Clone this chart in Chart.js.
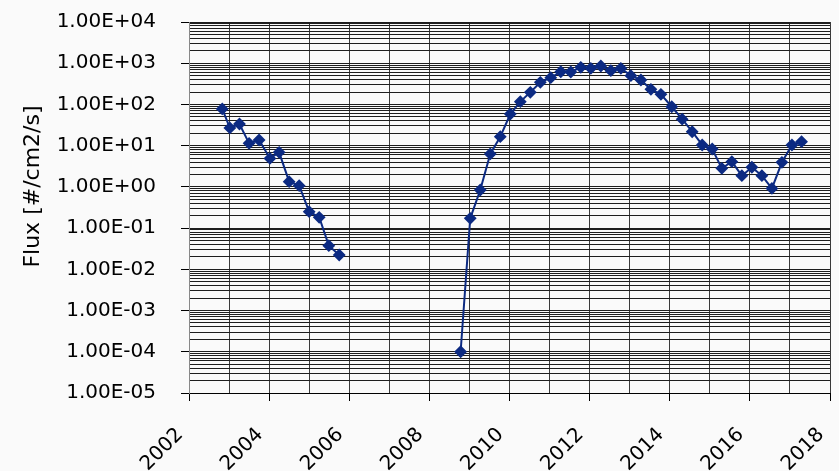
<!DOCTYPE html>
<html>
<head>
<meta charset="utf-8">
<script src="https://cdn.jsdelivr.net/npm/chart.js@4"></script>
<style>
  html, body { margin: 0; padding: 0; background: #fafafa; }
  canvas { display: block; }
</style>
</head>
<body>
<canvas id="fluxChart" width="839" height="471"></canvas>
<script>
// годы (дробные) и поток; null = разрыв в данных
const years = [
  2002.83, 2003.02, 2003.26, 2003.50, 2003.75, 2004.02, 2004.25, 2004.50, 2004.75,
  2005.00, 2005.25, 2005.49, 2005.75,
  2007.00,
  2008.78, 2009.02, 2009.27, 2009.52, 2009.77, 2010.02, 2010.27, 2010.52, 2010.77,
  2011.03, 2011.28, 2011.53, 2011.78, 2012.03, 2012.28, 2012.53, 2012.78,
  2013.03, 2013.28, 2013.53, 2013.78, 2014.05, 2014.31, 2014.56, 2014.81,
  2015.06, 2015.30, 2015.55, 2015.80, 2016.05, 2016.30, 2016.55, 2016.80,
  2017.05, 2017.29,
];
const flux = [
  78, 27, 33.6, 11.4, 13.7, 4.9, 6.9, 1.34, 1.07,
  0.25, 0.183, 0.0375, 0.0223,
  null,
  1.0e-4, 0.173, 0.84, 6.3, 16.5, 58.6, 117, 197, 344,
  446, 622, 612, 796, 753, 857, 659, 753,
  499, 392, 233, 176, 88, 44, 21.8, 10.4,
  8.3, 2.82, 4.1, 1.87, 2.99, 1.87, 0.92, 3.95,
  10.4, 12.5,
];

// подписи осей
const xTickYears = [2002, 2004, 2006, 2008, 2010, 2012, 2014, 2016, 2018];
const yExponents = [-5, -4, -3, -2, -1, 0, 1, 2, 3, 4];

const points = years.map((x, i) => ({ x: x, y: flux[i] }));

function isDecade(v) {
  const e = Math.round(Math.log10(v));
  return Math.abs(v - Math.pow(10, e)) / v < 1e-9;
}

function formatExp(v) {
  const e = Math.round(Math.log10(v));
  const s = String(Math.abs(e)).padStart(2, '0');
  return '1.00E' + (e < 0 ? '-' : '+') + s;
}

const ctx = document.getElementById('fluxChart').getContext('2d');

new Chart(ctx, {
  type: 'line',
  data: {
    datasets: [
      {
        data: points,
        borderColor: '#0c2a82',
        backgroundColor: '#0c2a82',
        borderWidth: 2,
        pointStyle: 'rectRot',
        pointRadius: 5,
        pointHoverRadius: 5,
        tension: 0,
        spanGaps: false,
      },
    ],
  },
  options: {
    responsive: false,
    animation: false,
    layout: {
      padding: { top: 22, right: 9, left: 0, bottom: 0 },
    },
    plugins: {
      legend: { display: false },
      tooltip: { enabled: false },
    },
    scales: {
      x: {
        type: 'linear',
        min: xTickYears[0],
        max: xTickYears[xTickYears.length - 1],
        afterBuildTicks: (scale) => {
          const t = [];
          for (let y = xTickYears[0]; y <= xTickYears[xTickYears.length - 1]; y++) {
            t.push({ value: y });
          }
          scale.ticks = t;
        },
        afterFit: (scale) => {
          scale.height = 78;
          scale.paddingLeft = 0;
          scale.paddingRight = 0;
        },
        grid: {
          color: '#3a3a3a',
          lineWidth: 1,
          tickLength: 8,
          tickColor: (c) =>
            c.tick && xTickYears.includes(c.tick.value) ? '#000' : 'rgba(0,0,0,0)',
        },
        border: { color: '#000' },
        ticks: {
          autoSkip: false,
          minRotation: 45,
          maxRotation: 45,
          padding: 13,
          color: '#000',
          font: { family: 'DejaVu Sans', size: 20 },
          // пробелы в конце сдвигают повернутую подпись влево-вниз, как в оригинале
          callback: (v) => (xTickYears.includes(v) ? String(v) + '  ' : ''),
        },
      },
      y: {
        type: 'logarithmic',
        min: Math.pow(10, yExponents[0]),
        max: Math.pow(10, yExponents[yExponents.length - 1]),
        afterBuildTicks: (scale) => {
          const t = [];
          yExponents.forEach((e) => {
            for (let m = 1; m <= 9; m++) {
              if (e === yExponents[yExponents.length - 1] && m > 1) break;
              t.push({ value: m * Math.pow(10, e) });
            }
          });
          scale.ticks = t;
        },
        afterFit: (scale) => {
          scale.width = 189;
          scale.paddingTop = 0;
          scale.paddingBottom = 0;
        },
        grid: {
          color: '#1e1e1e',
          lineWidth: 1,
          tickLength: 8,
          tickColor: (c) =>
            c.tick && isDecade(c.tick.value) ? '#000' : 'rgba(0,0,0,0)',
        },
        border: { color: '#888' },
        title: {
          display: true,
          text: '      Flux [#/cm2/s]',
          color: '#000',
          font: { family: 'DejaVu Sans', size: 22 },
          padding: { top: 20, bottom: 0 },
        },
        ticks: {
          autoSkip: false,
          padding: 25,
          color: '#000',
          font: { family: 'DejaVu Sans', size: 20 },
          callback: (v) => (isDecade(v) ? formatExp(v) : ''),
        },
      },
    },
  },
});
</script>
</body>
</html>
